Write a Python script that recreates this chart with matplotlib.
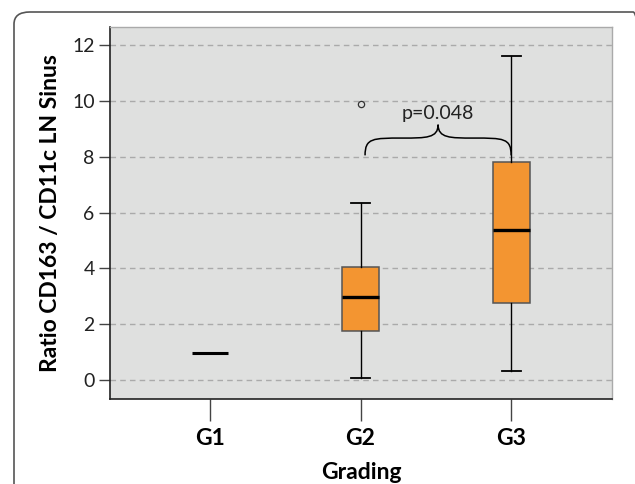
import matplotlib
matplotlib.use("Agg")
import matplotlib.pyplot as plt
from matplotlib.patches import FancyBboxPatch, PathPatch
from matplotlib.path import Path

plt.rcParams['font.family'] = ['Lato', 'DejaVu Sans']

categories = ["G1", "G2", "G3"]
positions = [1, 2, 3]
medians = [0.97, 2.97, 5.38]
q1 = [0.97, 1.76, 2.77]
q3 = [0.97, 4.05, 7.81]
whislo = [0.97, 0.08, 0.33]
whishi = [0.97, 6.33, 11.61]
fliers = [[], [9.88], []]
yticks = [0, 2, 4, 6, 8, 10, 12]
p_text = "p=0.048"

fig = plt.figure(figsize=(6.35, 4.84), dpi=100)
# outer rounded frame
frame = FancyBboxPatch((14/635, -0.2), 1.0, (484-12)/484 + 0.2,
                       boxstyle="round,pad=0,rounding_size=0.025",
                       transform=fig.transFigure, facecolor='none',
                       edgecolor='#555555', linewidth=1.2, zorder=-5)
fig.patches.append(frame)

ax = fig.add_axes([110/635, 1 - 399/484, (612-110)/635, (399-27)/484])
ax.set_facecolor('#dfe0df')

stats = []
for i in range(3):
    stats.append(dict(med=medians[i], q1=q1[i], q3=q3[i],
                      whislo=whislo[i], whishi=whishi[i], fliers=fliers[i]))

# G1 has a single value -> draw only median line
ax.bxp(stats[:1], positions=positions[:1], widths=0.245, showcaps=False,
       patch_artist=True,
       boxprops=dict(facecolor='none', edgecolor='none', linewidth=0),
       whiskerprops=dict(linewidth=0),
       medianprops=dict(color='black', linewidth=2.2, solid_capstyle='butt'),
       flierprops=dict(marker='o'))

ax.bxp(stats[1:], positions=positions[1:], widths=0.245, patch_artist=True,
       boxprops=dict(facecolor='#f39531', edgecolor='#555555', linewidth=1.1),
       whiskerprops=dict(color='black', linewidth=1.0),
       capprops=dict(color='black', linewidth=1.3),
       capwidths=0.125,
       medianprops=dict(color='black', linewidth=2.4, solid_capstyle='butt'),
       flierprops=dict(marker='o', markersize=4.5, markerfacecolor='none',
                       markeredgecolor='#333333', markeredgewidth=0.9))

ax.set_xlim(0.336, 3.67)
ax.set_ylim(-0.68, 12.65)
ax.set_yticks(yticks)
ax.set_yticklabels([str(v) for v in yticks], fontsize=14, color='#222222')
ax.set_xticks(positions)
ax.set_xticklabels(categories, fontsize=16.5, fontweight='bold')
ax.tick_params(axis='x', length=16, width=1.0, color='#444444', pad=5)
ax.tick_params(axis='y', length=8, width=1.0, color='#444444', pad=3)
ax.yaxis.grid(True, linestyle=(0, (4, 3)), color='#aaaaaa', linewidth=1.0)
ax.set_axisbelow(True)
for s in ['left', 'bottom']:
    ax.spines[s].set_color('#222222')
    ax.spines[s].set_linewidth(1.2)
for s in ['top', 'right']:
    ax.spines[s].set_color('#aaaaaa')
    ax.spines[s].set_linewidth(1.0)

ax.set_ylabel("Ratio CD163 / CD11c LN Sinus", fontsize=16.5, fontweight='bold', labelpad=8)
ax.set_xlabel("Grading", fontsize=16.5, fontweight='bold', labelpad=9)

# curly brace between G2 and G3
xl, xr, yb, ym, yt = 2.03, 3.0, 8.05, 8.67, 9.15
xm = (xl + xr) / 2
verts = [(xl, yb),
         (xl, ym), (xl + 0.05, ym), (xl + 0.25, ym),
         (xm - 0.08, ym), (xm, ym), (xm, yt),
         (xm, ym), (xm + 0.08, ym), (xr - 0.25, ym),
         (xr - 0.05, ym), (xr, ym), (xr, yb)]
codes = [Path.MOVETO,
         Path.CURVE4, Path.CURVE4, Path.CURVE4,
         Path.CURVE4, Path.CURVE4, Path.CURVE4,
         Path.CURVE4, Path.CURVE4, Path.CURVE4,
         Path.CURVE4, Path.CURVE4, Path.CURVE4]
ax.add_patch(PathPatch(Path(verts, codes), facecolor='none', edgecolor='black', linewidth=1.1))
ax.text(xm, 9.55, p_text, ha='center', va='center', fontsize=14, color='#222222')

fig.savefig("out.png", dpi=100)
